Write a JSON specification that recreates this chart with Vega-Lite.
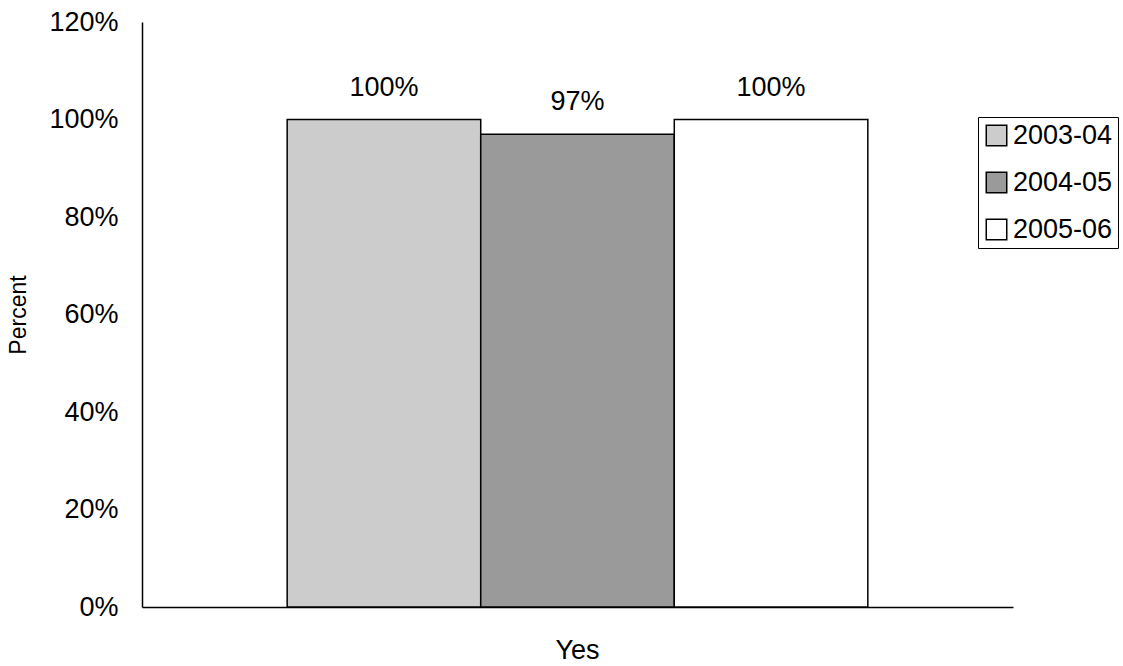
{
  "$schema": "https://vega.github.io/schema/vega-lite/v6.json",
  "width": 871,
  "height": 585,
  "autosize": {"type": "none"},
  "padding": {"left": 142, "top": 22, "right": 110, "bottom": 59},
  "background": "white",
  "data": {
    "values": [
      {"answer": "Yes", "year": "2003-04", "percent": 1.0},
      {"answer": "Yes", "year": "2004-05", "percent": 0.97},
      {"answer": "Yes", "year": "2005-06", "percent": 1.0}
    ]
  },
  "encoding": {
    "x": {
      "field": "answer",
      "type": "nominal",
      "scale": {"paddingInner": 0, "paddingOuter": 0.25},
      "axis": {
        "title": null,
        "labelAngle": 0,
        "labelFontSize": 27,
        "labelColor": "black",
        "labelPadding": 30,
        "ticks": false,
        "domainColor": "black",
        "domainWidth": 1.5
      }
    },
    "xOffset": {"field": "year", "type": "nominal", "sort": ["2003-04", "2004-05", "2005-06"]},
    "y": {
      "field": "percent",
      "type": "quantitative",
      "scale": {"domain": [0, 1.2]},
      "axis": {
        "title": "Percent",
        "titleFontSize": 23,
        "titleFontWeight": "normal",
        "titleColor": "black",
        "titlePadding": 18,
        "format": ".0%",
        "values": [0, 0.2, 0.4, 0.6, 0.8, 1.0, 1.2],
        "labelFontSize": 27,
        "labelColor": "black",
        "labelPadding": 24,
        "ticks": false,
        "grid": false,
        "domainColor": "black",
        "domainWidth": 1.5
      }
    }
  },
  "layer": [
    {
      "mark": {"type": "bar", "stroke": "black", "strokeWidth": 1.5},
      "encoding": {
        "color": {
          "field": "year",
          "type": "nominal",
          "scale": {"domain": ["2003-04", "2004-05", "2005-06"], "range": ["#cccccc", "#9a9a9a", "#ffffff"]},
          "legend": {
            "title": null,
            "orient": "none",
            "legendX": 836,
            "legendY": 95,
            "labelFontSize": 27,
            "labelColor": "black",
            "symbolType": "square",
            "symbolSize": 420,
            "symbolStrokeColor": "black",
            "symbolStrokeWidth": 1.5,
            "rowPadding": 19,
            "labelOffset": 3,
            "padding": 5,
            "strokeColor": "black"
          }
        }
      }
    },
    {
      "mark": {"type": "text", "baseline": "bottom", "dy": -18, "fontSize": 27, "color": "black"},
      "encoding": {
        "text": {"field": "percent", "type": "quantitative", "format": ".0%"}
      }
    }
  ],
  "config": {
    "font": "Liberation Sans",
    "view": {"stroke": null}
  }
}
